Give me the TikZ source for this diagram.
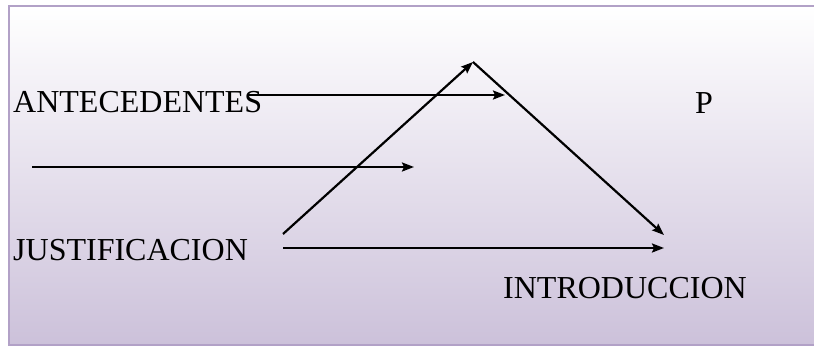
\documentclass[tikz,border=0pt]{standalone}
\usepackage{fontspec}
\setmainfont{Liberation Serif}
\usetikzlibrary{arrows.meta}
\definecolor{lila}{HTML}{CCC1DA}
\definecolor{lilaborde}{HTML}{B2A1C7}
\begin{document}
\begin{tikzpicture}[>={Stealth[length=12pt,width=9pt,inset=2pt]}, x=1pt, y=-1pt,
    txt/.style={anchor=base west, inner sep=0pt, font=\fontsize{32}{32}\selectfont},
    flecha/.style={->, line width=2.2pt}]
\useasboundingbox (0,0) rectangle (814,348);
\clip (0,0) rectangle (814,348);
\shade[top color=white, bottom color=lila, draw=lilaborde, line width=2.5pt](9,6) rectangle (850,345);
% textos
\node[txt] (ant) at (13,112) {ANTECEDENTES};
\node[txt] (p) at (695,113) {P};
\node[txt] (just) at (13,260) {JUSTIFICACION};
\node[txt] (intro) at (503,298) {INTRODUCCION};
% puntos
\coordinate (a1) at (248,95);
\coordinate (a2) at (505,95);
\coordinate (m1) at (32,167);
\coordinate (m2) at (414,167);
\coordinate (j1) at (283,234);
\coordinate (j2) at (283,248);
\coordinate (cima) at (473,62);
\coordinate (fin1) at (664,235);
\coordinate (fin2) at (664,248);
% flechas
\draw[flecha](a1)--(a2);
\draw[flecha](m1)--(m2);
\draw[flecha](j1)--(cima);
\draw[flecha](cima)--(fin1);
\draw[flecha](j2)--(fin2);
\end{tikzpicture}
\end{document}
